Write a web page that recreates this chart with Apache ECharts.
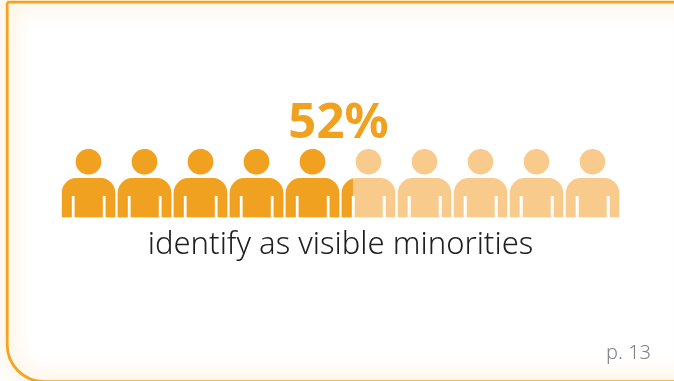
<!DOCTYPE html>
<html>
<head>
<meta charset="utf-8">
<style>html,body{margin:0;padding:0;background:#fff}#chart{width:674px;height:381px}</style>
<script src="https://cdn.jsdelivr.net/npm/echarts@6/dist/echarts.min.js"></script>
</head>
<body>
<div id="chart"></div>
<script>
// Share of respondents, drawn as ten figures filled to the stated percentage.
const categories = ['Visible minorities'];
const shareValues = [52];
const wholeValues = [100];
const caption = 'identify as visible minorities';
const pageLabel = 'p. 13';

const solid = '#F0A120';
const pale = '#F8CB8C';
const person = 'path://M26.8 0A12.8 12.8 0 1 1 26.79 0Z' +
  'M15 29H38.6A15 15 0 0 1 53.6 44V68.3H44V47H41V68.3H13V47H10V68.3H0V44A15 15 0 0 1 15 29Z';

const chart = echarts.init(document.getElementById('chart'), null, { renderer: 'canvas' });

const figureSeries = (values, color, z) => ({
  type: 'pictorialBar',
  data: values,
  symbol: person,
  symbolSize: [53.6, 68.3],
  symbolRepeat: 10,
  symbolMargin: '1!',
  symbolPosition: 'start',
  symbolBoundingData: 100,
  symbolClip: true,
  symbolOffset: [-1.2, 0],
  itemStyle: { color },
  z,
  silent: true,
  animation: false
});

chart.setOption({
  animation: false,
  backgroundColor: '#fff',
  grid: { left: 61.7, top: 149, width: 560, height: 68.3 },
  xAxis: { type: 'value', min: 0, max: 100, show: false },
  yAxis: { type: 'category', data: categories, show: false },
  series: [figureSeries(wholeValues, pale, 2), figureSeries(shareValues, solid, 3)],
  graphic: [
    {
      type: 'rect', silent: true, z: 1,
      shape: { x: 7.2, y: 2.2, width: 720, height: 379.5, r: [0, 0, 0, 37] },
      style: { fill: 'transparent', stroke: '#F6A31F', lineWidth: 2.8, shadowColor: 'rgba(246,166,35,0.7)', shadowBlur: 20 }
    },
    {
      type: 'line', silent: true, z: 1,
      shape: { x1: 680, y1: 0, x2: 680, y2: 381 },
      style: { stroke: 'rgba(246,166,35,0.05)', lineWidth: 4, shadowColor: 'rgba(246,166,35,0.5)', shadowBlur: 16 }
    },
    {
      type: 'text', z: 5, x: 338.5, y: 124, silent: true,
      style: { text: shareValues[0] + '%', font: 'bold 49px "Noto Sans"', fill: solid, align: 'center', verticalAlign: 'middle' }
    },
    {
      type: 'text', z: 5, x: 340.5, y: 245.5, silent: true,
      style: { text: caption, font: '300 31px "Noto Sans"', fill: '#1f1f1f', align: 'center', verticalAlign: 'middle' }
    },
    {
      type: 'text', z: 5, x: 651, y: 353, silent: true,
      style: { text: pageLabel, font: '300 20px "Noto Sans"', fill: '#7d8287', align: 'right', verticalAlign: 'middle' }
    }
  ]
});
</script>
</body>
</html>
